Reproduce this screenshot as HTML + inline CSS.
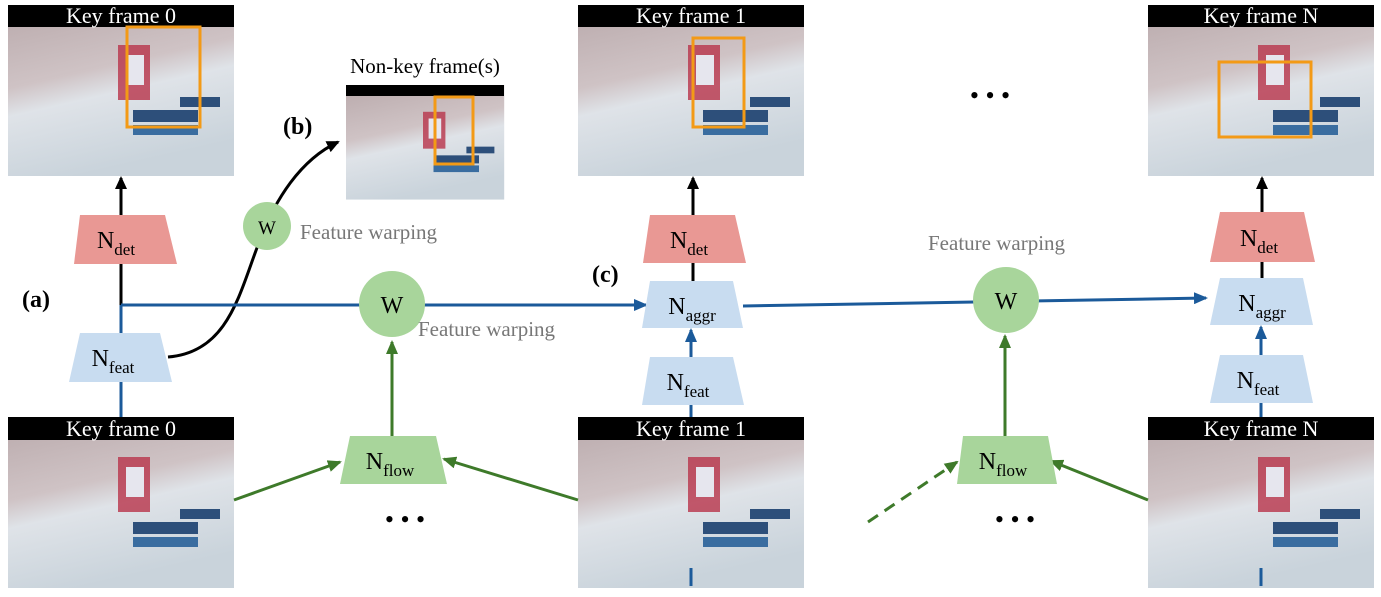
<!DOCTYPE html>
<html><head><meta charset="utf-8"><style>
body{margin:0;background:#fff;width:1381px;height:592px;overflow:hidden}
text{font-family:"Liberation Serif",serif}
</style></head><body>
<svg width="1381" height="592" viewBox="0 0 1381 592" xmlns="http://www.w3.org/2000/svg">
<defs>
<linearGradient id="img" x1="0" y1="0" x2="0.3" y2="1">
<stop offset="0" stop-color="#b9a9ab"/><stop offset="0.45" stop-color="#cfc3c5"/><stop offset="0.6" stop-color="#dfe3e8"/><stop offset="1" stop-color="#c9d3db"/>
</linearGradient>
<marker id="ak" markerWidth="13" markerHeight="12" refX="11" refY="6" orient="auto" markerUnits="userSpaceOnUse"><path d="M0,0 L13,6 L0,12z" fill="#000"/></marker>
<marker id="ab" markerWidth="14" markerHeight="12" refX="12" refY="6" orient="auto" markerUnits="userSpaceOnUse"><path d="M0,0 L14,6 L0,12z" fill="#1b5a9a"/></marker>
<marker id="ag" markerWidth="14" markerHeight="12" refX="12" refY="6" orient="auto" markerUnits="userSpaceOnUse"><path d="M0,0 L14,6 L0,12z" fill="#3e7a2a"/></marker>
<g id="fr">
<rect x="0" y="0" width="226" height="171" fill="url(#img)"/>
<rect x="110" y="40" width="32" height="55" fill="#b8334a" opacity="0.8"/>
<rect x="118" y="50" width="18" height="30" fill="#e6e6ee"/>
<rect x="125" y="105" width="65" height="12" fill="#2d4f7a"/>
<rect x="125" y="120" width="65" height="10" fill="#3a6da0"/>
<rect x="172" y="92" width="40" height="10" fill="#2d4f7a"/>
</g>
</defs>
<use href="#fr" x="8" y="5"/><rect x="8" y="5" width="226" height="22" fill="#000"/>
<text x="121" y="23" fill="#fff" font-size="22" text-anchor="middle">Key frame 0</text>
<rect x="127" y="27" width="73" height="100" fill="none" stroke="#f39a16" stroke-width="3"/>
<use href="#fr" x="578" y="5"/><rect x="578" y="5" width="226" height="22" fill="#000"/>
<text x="691" y="23" fill="#fff" font-size="22" text-anchor="middle">Key frame 1</text>
<rect x="693" y="38" width="51" height="89" fill="none" stroke="#f39a16" stroke-width="3"/>
<use href="#fr" x="1148" y="5"/><rect x="1148" y="5" width="226" height="22" fill="#000"/>
<text x="1261" y="23" fill="#fff" font-size="22" text-anchor="middle">Key frame N</text>
<rect x="1219" y="62" width="92" height="75" fill="none" stroke="#f39a16" stroke-width="3"/>
<g transform="translate(346,85) scale(0.7,0.67)"><use href="#fr"/></g>
<rect x="346" y="85" width="158" height="11" fill="#000"/>
<rect x="435" y="97" width="38" height="67" fill="none" stroke="#f39a16" stroke-width="3"/>
<text x="425" y="73" font-size="21" text-anchor="middle">Non-key frame(s)</text>
<use href="#fr" x="8" y="417"/><rect x="8" y="417" width="226" height="23" fill="#000"/>
<text x="121" y="436" fill="#fff" font-size="22" text-anchor="middle">Key frame 0</text>
<use href="#fr" x="578" y="417"/><rect x="578" y="417" width="226" height="23" fill="#000"/>
<text x="691" y="436" fill="#fff" font-size="22" text-anchor="middle">Key frame 1</text>
<use href="#fr" x="1148" y="417"/><rect x="1148" y="417" width="226" height="23" fill="#000"/>
<text x="1261" y="436" fill="#fff" font-size="22" text-anchor="middle">Key frame N</text>
<line x1="121" y1="305" x2="121" y2="178" stroke="#000" stroke-width="3" marker-end="url(#ak)"/>
<line x1="693" y1="281" x2="693" y2="178" stroke="#000" stroke-width="3" marker-end="url(#ak)"/>
<line x1="1262" y1="278" x2="1262" y2="178" stroke="#000" stroke-width="3" marker-end="url(#ak)"/>
<path d="M168,357 C230,352 240,290 260,240 C275,200 300,160 338,142" fill="none" stroke="#000" stroke-width="3" marker-end="url(#ak)"/>
<line x1="121" y1="305" x2="646" y2="305" stroke="#1b5a9a" stroke-width="3" marker-end="url(#ab)"/>
<line x1="121" y1="305" x2="121" y2="417" stroke="#1b5a9a" stroke-width="3"/>
<line x1="743" y1="306" x2="1206" y2="298" stroke="#1b5a9a" stroke-width="3" marker-end="url(#ab)"/>
<line x1="691" y1="357" x2="691" y2="330" stroke="#1b5a9a" stroke-width="3" marker-end="url(#ab)"/>
<line x1="1261" y1="355" x2="1261" y2="327" stroke="#1b5a9a" stroke-width="3" marker-end="url(#ab)"/>
<line x1="691" y1="405" x2="691" y2="417" stroke="#1b5a9a" stroke-width="3"/>
<line x1="1261" y1="403" x2="1261" y2="417" stroke="#1b5a9a" stroke-width="3"/>
<line x1="691" y1="568" x2="691" y2="586" stroke="#1b5a9a" stroke-width="3"/>
<line x1="1261" y1="568" x2="1261" y2="586" stroke="#1b5a9a" stroke-width="3"/>
<line x1="392" y1="436" x2="392" y2="342" stroke="#3e7a2a" stroke-width="3" marker-end="url(#ag)"/>
<line x1="1005" y1="436" x2="1005" y2="336" stroke="#3e7a2a" stroke-width="3" marker-end="url(#ag)"/>
<line x1="234" y1="500" x2="340" y2="462" stroke="#3e7a2a" stroke-width="3" marker-end="url(#ag)"/>
<line x1="578" y1="500" x2="444" y2="459" stroke="#3e7a2a" stroke-width="3" marker-end="url(#ag)"/>
<line x1="868" y1="522" x2="957" y2="462" stroke="#3e7a2a" stroke-width="3" stroke-dasharray="12,8" marker-end="url(#ag)"/>
<line x1="1148" y1="500" x2="1051" y2="461" stroke="#3e7a2a" stroke-width="3" marker-end="url(#ag)"/>
<g font-size="24" text-anchor="middle">
<polygon points="80,215 165,215 177,264 74,264" fill="#e99894"/>
<text x="116" y="248">N<tspan font-size="17" dy="7">det</tspan></text>
<polygon points="80,333 160,333 172,382 69,382" fill="#c8dcf0"/>
<text x="113" y="366">N<tspan font-size="17" dy="7">feat</tspan></text>
<polygon points="650,215 735,215 746,263 643,263" fill="#e99894"/>
<text x="689" y="248">N<tspan font-size="17" dy="7">det</tspan></text>
<polygon points="650,281 733,281 743,328 642,328" fill="#c8dcf0"/>
<text x="692" y="314">N<tspan font-size="17" dy="7">aggr</tspan></text>
<polygon points="650,357 733,357 744,405 642,405" fill="#c8dcf0"/>
<text x="688" y="390">N<tspan font-size="17" dy="7">feat</tspan></text>
<polygon points="1220,212 1304,212 1315,262 1210,262" fill="#e99894"/>
<text x="1259" y="246">N<tspan font-size="17" dy="7">det</tspan></text>
<polygon points="1220,278 1303,278 1313,325 1210,325" fill="#c8dcf0"/>
<text x="1262" y="311">N<tspan font-size="17" dy="7">aggr</tspan></text>
<polygon points="1220,355 1303,355 1313,403 1210,403" fill="#c8dcf0"/>
<text x="1258" y="388">N<tspan font-size="17" dy="7">feat</tspan></text>
<polygon points="350,436 436,436 447,484 340,484" fill="#a8d59b"/>
<text x="390" y="469">N<tspan font-size="17" dy="7">flow</tspan></text>
<polygon points="963,436 1048,436 1057,484 957,484" fill="#a8d59b"/>
<text x="1003" y="469">N<tspan font-size="17" dy="7">flow</tspan></text>
</g>
<circle cx="267" cy="226" r="24" fill="#a8d59b"/>
<text x="267" y="234" font-size="19" text-anchor="middle">W</text>
<circle cx="392" cy="304" r="33" fill="#a8d59b"/>
<text x="392" y="313" font-size="24" text-anchor="middle">W</text>
<circle cx="1006" cy="300" r="33" fill="#a8d59b"/>
<text x="1006" y="309" font-size="24" text-anchor="middle">W</text>
<g font-size="21" fill="#777">
<text x="300" y="239">Feature warping</text>
<text x="418" y="336">Feature warping</text>
<text x="928" y="250">Feature warping</text>
</g>
<g font-size="24" font-weight="bold">
<text x="22" y="307">(a)</text>
<text x="283" y="134">(b)</text>
<text x="592" y="282">(c)</text>
</g>
<g font-size="26" text-anchor="middle">
<text x="405" y="528">• • •</text>
<text x="990" y="104">• • •</text>
<text x="1015" y="528">• • •</text>
</g>
</svg>
</body></html>
